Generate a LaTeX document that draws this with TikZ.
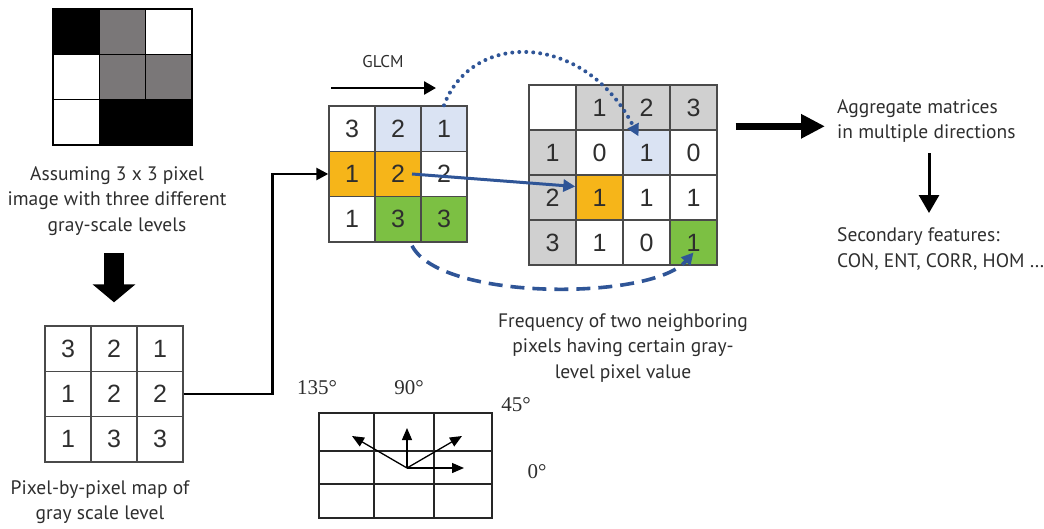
\documentclass[tikz,border=0pt]{standalone}
\usepackage{fontspec}
\setmainfont{PT Sans}
\newfontfamily\digitfont{Liberation Sans}
\newfontfamily\degfont{Liberation Serif}
\usetikzlibrary{arrows.meta}

\definecolor{pixgray}{HTML}{7A7778}
\definecolor{hdrgray}{HTML}{D0D0D0}
\definecolor{lblue}{HTML}{DAE3F3}
\definecolor{gorange}{HTML}{F6B519}
\definecolor{ggreen}{HTML}{7CC043}
\definecolor{arrowblue}{HTML}{2F5597}
\definecolor{txtgray}{HTML}{2E2E2E}
\definecolor{linegray}{HTML}{4A4A4A}

\tikzset{
  pix/.style={draw=black, line width=1.6pt, minimum width=46.33pt, minimum height=45.33pt, inner sep=0pt},
  cell/.style={draw=linegray, line width=1.4pt, minimum width=46pt, minimum height=45.33pt, inner sep=0pt,
               font=\digitfont\fontsize{25}{25}\selectfont, text=txtgray},
  bigcell/.style={cell, minimum width=47pt, minimum height=45pt},
  label/.style={font=\fontsize{19.5}{25.5}\selectfont, text=txtgray, inner sep=0pt},
  smalllabel/.style={font=\fontsize{17}{20}\selectfont, text=txtgray, inner sep=0pt},
  deg/.style={font=\degfont\fontsize{21}{21}\selectfont, text=txtgray, inner sep=0pt},
  flow/.style={line width=2.6pt, -{Triangle[width=13pt,length=12pt]}},
  bluelink/.style={arrowblue, line width=3pt, -{Triangle[width=12pt,length=12pt]}},
  dir/.style={line width=1.3pt, -{Triangle[width=10pt,length=12pt]}},
}

\begin{document}
\begin{tikzpicture}[x=1pt, y=-1pt]
\useasboundingbox (0,0) rectangle (1044,528);

% --- 3x3 gray-scale image
\foreach \r/\c/\f in {1/1/black,1/2/pixgray,1/3/white,
                      2/1/white,2/2/pixgray,2/3/pixgray,
                      3/1/white,3/2/black,3/3/black}
  \node[pix, fill=\f] (img-\r-\c) at ({53+46.33*\c-23.17},{9+45.33*\r-22.67}) {};
\node[label, align=center] (imgtxt) at (117,201)
  {Assuming 3 x 3 pixel\\image with three different\\gray-scale levels};

% --- pixel-by-pixel map
\foreach \r/\c/\v in {1/1/3,1/2/2,1/3/1,2/1/1,2/2/2,2/3/2,3/1/1,3/2/3,3/3/3}
  \node[cell] (map-\r-\c) at ({45+46*\c-23},{326+45.33*\r-22.67}) {\v};
\node[label, align=center] (maptxt) at (100,502)
  {Pixel-by-pixel map of\\gray scale level};

% thick arrow between image and map
\draw[line width=20pt, -{Triangle[width=42pt,length=18pt]}]
  ([yshift=72pt]map-1-2.north) -- ([yshift=23pt]map-1-2.north);

% --- GLCM source matrix
\foreach \r/\c/\v/\f in {1/1/3/white,1/2/2/lblue,1/3/1/lblue,
                         2/1/1/gorange,2/2/2/gorange,2/3/2/white,
                         3/1/1/white,3/2/3/ggreen,3/3/3/ggreen}
  \node[cell, fill=\f] (g-\r-\c) at ({329+46*\c-23},{106+45.33*\r-22.67}) {\v};

\draw[line width=2.6pt, -{Triangle[width=12pt,length=12pt]}]
  (map-2-3.east) -- ++(89,0) |- (g-2-1.west);

\node[smalllabel] (glcm) at (383,62) {GLCM};
\coordinate (glcmA) at (331,88);
\coordinate (glcmB) at (436,88);
\draw[flow] (glcmA) -- (glcmB);

% --- co-occurrence matrix
\foreach \r/\c/\v/\f in {0/0/{}/white,0/1/1/hdrgray,0/2/2/hdrgray,0/3/3/hdrgray,
                         1/0/1/hdrgray,1/1/0/white,1/2/1/lblue,1/3/0/white,
                         2/0/2/hdrgray,2/1/1/gorange,2/2/1/white,2/3/1/white,
                         3/0/3/hdrgray,3/1/1/white,3/2/0/white,3/3/1/ggreen}
  \node[bigcell, fill=\f] (m-\r-\c) at ({529+47*\c+23.5},{85+45*\r+22.5}) {\v};

% pair links
\draw[bluelink] ([xshift=14pt]g-2-2.center) -- ([yshift=11pt]m-2-1.west);
\draw[bluelink, line width=4pt, line cap=round, dash pattern=on 0pt off 7pt]
  (g-1-3.north) .. controls (472,30) and (585,32) .. ([xshift=-8pt,yshift=-7pt]m-1-2.north);
\draw[bluelink, line width=3.6pt, dash pattern=on 14pt off 8pt]
  ([xshift=14pt,yshift=-3pt]g-3-2.south) .. controls (440,301) and (651,301) .. ([yshift=-10pt]m-3-3.center);

\node[label, align=center] (freqtxt) at (623,348)
  {Frequency of two neighboring\\pixels having certain gray-\\level pixel value};

% --- aggregation and features
\node[label, align=left, anchor=west] (agg) at (837,121)
  {Aggregate matrices\\in multiple directions};
\coordinate (aggIn) at ([xshift=18pt,yshift=3pt]m-1-3.north east);
\draw[line width=6.5pt, -{Triangle[width=23pt,length=24pt]}]
  (aggIn) -- ([xshift=-12pt]agg.west |- aggIn);

\node[label, align=left, anchor=west] (sec) at (837,249)
  {Secondary features:\\CON, ENT, CORR, HOM \dots};
\coordinate (aggB) at (929,153);
\coordinate (secT) at (929,213);
\draw[line width=3pt, -{Triangle[width=20pt,length=18pt]}] (aggB) -- (secT);

% --- direction grid
\draw[line width=2pt, draw=black!85]
  (319,413) rectangle (492,518)
  (374,413) -- (374,518) (434,413) -- (434,518)
  (319,451) -- (492,451) (319,484) -- (492,484);
\coordinate (o) at (407,468);
\coordinate (d0) at (464,468);
\coordinate (d45) at (462,436);
\coordinate (d90) at (407,428);
\coordinate (d135) at (352,436);
\draw[dir] (o) -- (d0);
\draw[dir] (o) -- (d45);
\draw[dir] (o) -- (d90);
\draw[dir] (o) -- (d135);
\node[deg] (l135) at (317,388) {135°};
\node[deg] (l90) at (409,388) {90°};
\node[deg] (l45) at (516,405) {45°};
\node[deg] (l0) at (537,472) {0°};
\end{tikzpicture}
\end{document}
